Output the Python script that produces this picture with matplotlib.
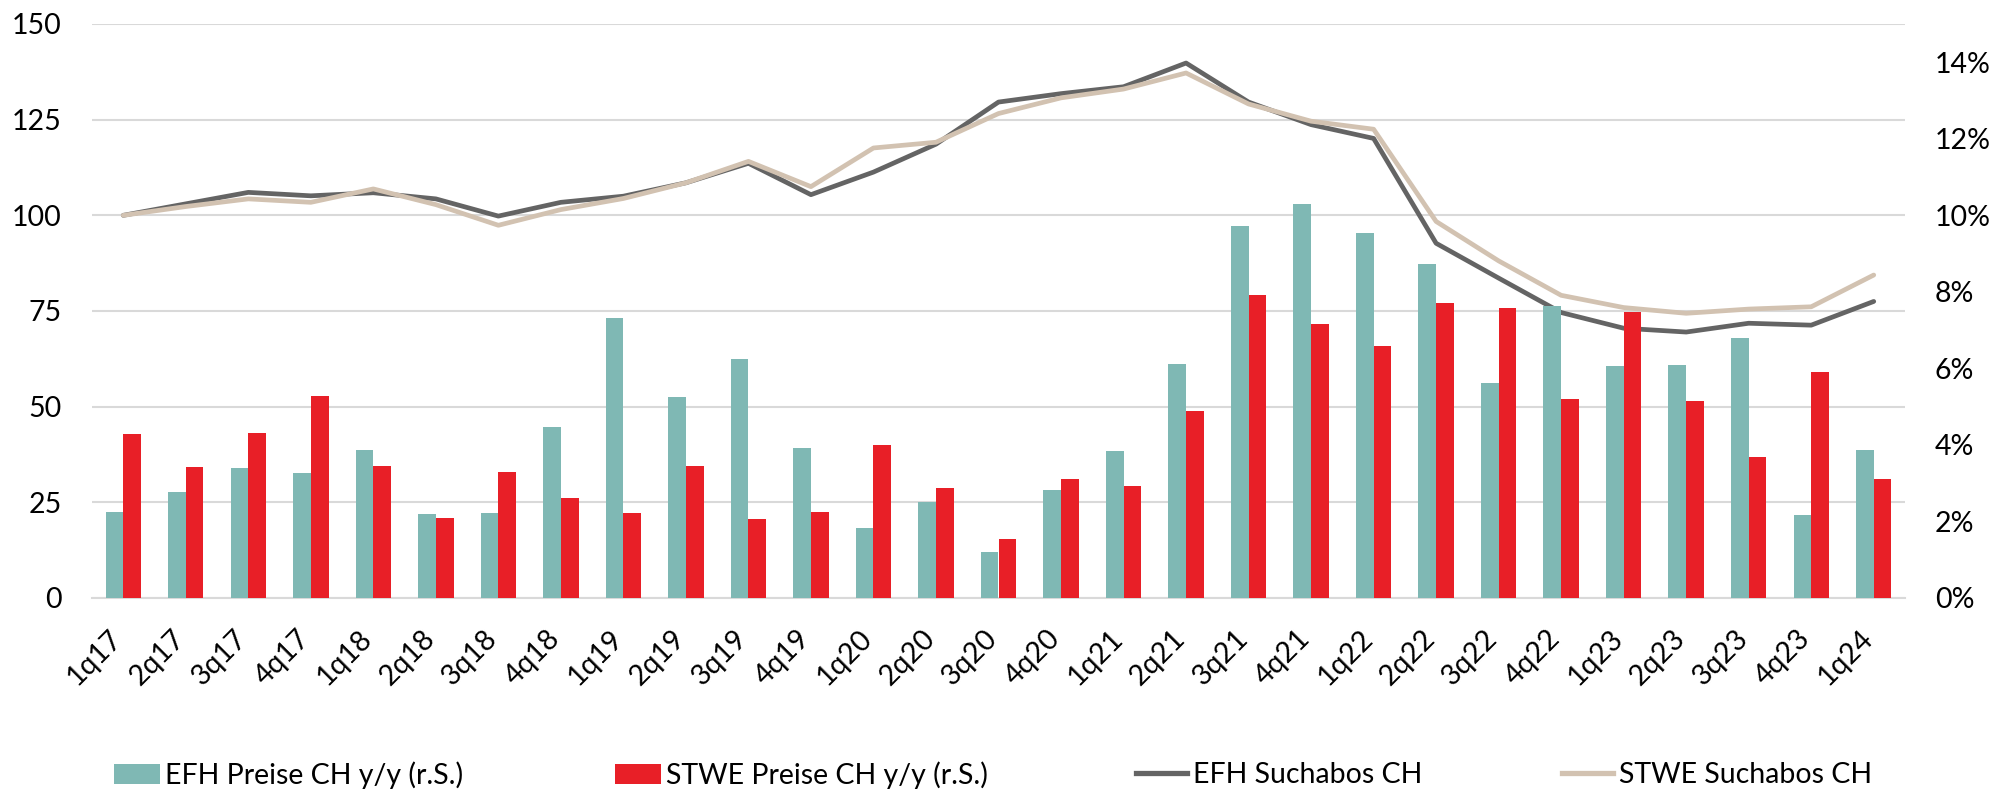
import matplotlib as mpl
mpl.use('Agg')
mpl.rcParams['font.family'] = ['Lato', 'DejaVu Sans']
mpl.rcParams['font.size'] = 20.5
import matplotlib.pyplot as plt
import matplotlib.transforms as mtransforms
from matplotlib.patches import Patch
from matplotlib.lines import Line2D
import numpy as np

quarters = ['1q17', '2q17', '3q17', '4q17', '1q18', '2q18', '3q18', '4q18',
            '1q19', '2q19', '3q19', '4q19', '1q20', '2q20', '3q20', '4q20',
            '1q21', '2q21', '3q21', '4q21', '1q22', '2q22', '3q22', '4q22',
            '1q23', '2q23', '3q23', '4q23', '1q24']

# y/y price growth in percent (right axis)
efh_preise = [2.24, 2.78, 3.40, 3.27, 3.87, 2.19, 2.21, 4.47, 7.33, 5.25,
              6.24, 3.91, 1.83, 2.52, 1.20, 2.83, 3.85, 6.11, 9.72, 10.30,
              9.53, 8.73, 5.63, 7.62, 6.06, 6.08, 6.79, 2.16, 3.87]
stwe_preise = [4.28, 3.43, 4.30, 5.28, 3.46, 2.09, 3.29, 2.61, 2.22, 3.44,
               2.06, 2.24, 4.00, 2.88, 1.54, 3.10, 2.92, 4.89, 7.93, 7.17,
               6.59, 7.70, 7.59, 5.21, 7.48, 5.14, 3.68, 5.90, 3.12]

# search subscription index (left axis)
efh_suchabos = [100.0, 103.0, 106.0, 105.1, 105.9, 104.3, 99.8, 103.4, 105.0, 108.5,
                113.6, 105.4, 111.3, 118.6, 129.6, 131.8, 133.6, 139.8, 129.6, 123.7,
                120.1, 92.7, 83.6, 74.6, 70.5, 69.5, 71.8, 71.3, 77.5]
stwe_suchabos = [100.0, 102.3, 104.3, 103.4, 106.9, 102.8, 97.4, 101.5, 104.4, 108.5,
                 114.1, 107.5, 117.6, 119.1, 126.6, 130.7, 133.0, 137.2, 129.1, 124.6,
                 122.5, 98.4, 88.1, 79.1, 75.9, 74.4, 75.5, 76.1, 84.4]

c_efh_bar = '#7fb8b4'
c_stwe_bar = '#e81f27'
c_efh_line = '#646464'
c_stwe_line = '#d2c2b1'

fig = plt.figure(figsize=(19.95, 7.91), dpi=100)
fig.subplots_adjust(left=92/1995, right=1905/1995, top=1-24/791, bottom=1-598/791)
ax = fig.add_subplot(111)
ax2 = ax.twinx()

x = np.arange(len(quarters))
w = 0.283

ax.plot(x, efh_suchabos, color=c_efh_line, lw=3.4, solid_capstyle='round', zorder=3)
ax.plot(x, stwe_suchabos, color=c_stwe_line, lw=3.4, solid_capstyle='round', zorder=3)

ax2.bar(x - w/2, efh_preise, width=w, color=c_efh_bar)
ax2.bar(x + w/2, stwe_preise, width=w, color=c_stwe_bar)

ax.set_xlim(-0.5, len(quarters) - 0.5)
ax.set_ylim(0, 150)
ax.set_yticks(np.arange(0, 151, 25))
ax2.set_ylim(0, 15)
ax2.set_yticks(np.arange(0, 15, 2))
ax2.set_yticklabels([f'{v}%' for v in range(0, 15, 2)])

ax.set_axisbelow(True)
ax.yaxis.grid(True, color='#d9d9d9', lw=1.5)
for a in (ax, ax2):
    for s in a.spines.values():
        s.set_visible(False)
ax.spines['bottom'].set_visible(True)
ax.spines['bottom'].set_color('#d9d9d9')
ax.spines['bottom'].set_linewidth(1.5)

ax.tick_params(axis='y', length=0, pad=22)
ax2.tick_params(axis='y', length=0, pad=21.5)
ax.tick_params(axis='x', length=0, pad=26)
ax.set_xticks(x)
ax.set_xticklabels(quarters, rotation=45, ha='right', va='center', rotation_mode='anchor')
shift = mtransforms.ScaledTranslation(-5/100, 0, fig.dpi_scale_trans)
for lab in ax.get_xticklabels():
    lab.set_transform(lab.get_transform() + shift)

# legend entries placed one by one like the original
entries = [
    (Patch(facecolor=c_efh_bar), 'EFH Preise CH y/y (r.S.)', 114, 1.6),
    (Patch(facecolor=c_stwe_bar), 'STWE Preise CH y/y (r.S.)', 615, 1.6),
    (Line2D([], [], color=c_efh_line, lw=3.8), 'EFH Suchabos CH', 1136, 1.8),
    (Line2D([], [], color=c_stwe_line, lw=3.8), 'STWE Suchabos CH', 1562, 1.8),
]
for h, lab, px, hl in entries:
    fig.legend(handles=[h], labels=[lab], loc='center left',
               bbox_to_anchor=(px/1995, 1-775/791), frameon=False,
               borderpad=0, borderaxespad=0, handlelength=hl,
               handleheight=0.7, handletextpad=0.2)

fig.savefig('out.png', dpi=100)
